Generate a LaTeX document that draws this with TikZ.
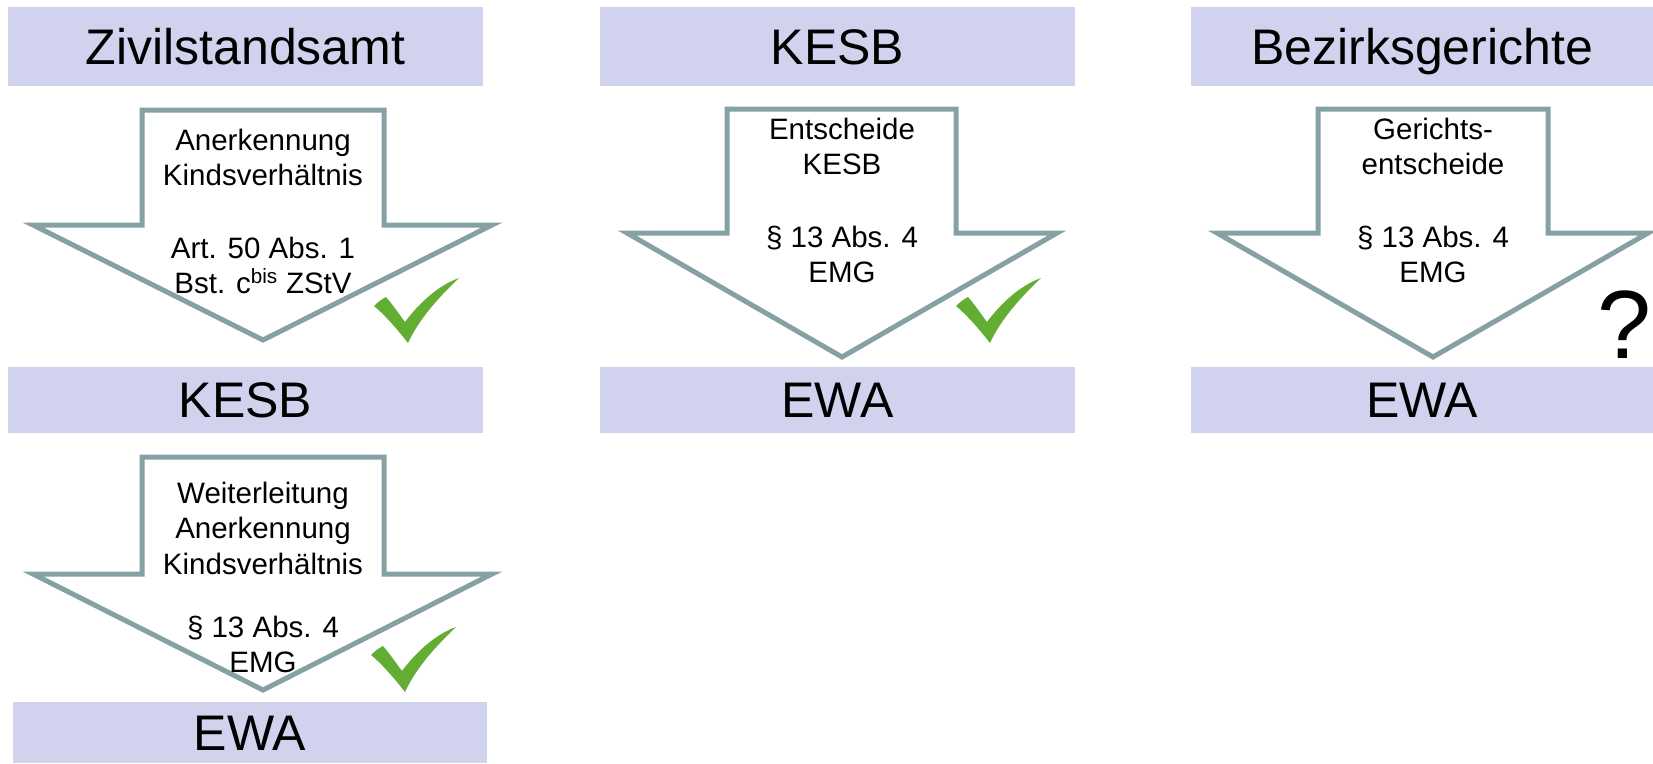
\documentclass[tikz,border=0pt]{standalone}
\usepackage{fontspec}
\setmainfont{Liberation Sans}
\definecolor{boxfill}{RGB}{208,210,238}
\definecolor{arrowline}{RGB}{134,161,163}
\definecolor{checkgreen}{RGB}{98,173,50}
\tikzset{
  titlebox/.style={fill=boxfill, draw=none, inner sep=0pt, text height=35.8pt, text depth=0pt,
    font=\fontsize{50}{54}\selectfont},
  blockarrow/.style={draw=arrowline, line width=5pt, fill=white, line join=miter, miter limit=10},
  lbl/.style={anchor=base, inner sep=0pt, font=\fontsize{29.5}{34}\selectfont},
  chk/.pic={\fill[checkgreen] (-33,-37) .. controls (-29,-41) and (-25,-44) .. (-21,-46)
      .. controls (-14,-38) and (-8,-29) .. (-2,-21)
      .. controls (12,-40) and (32,-58) .. (52,-65)
      .. controls (32,-46) and (12,-24) .. (1,0)
      .. controls (-10,-14) and (-22,-28) .. cycle;}
}
\begin{document}
\begin{tikzpicture}[x=1pt,y=-1pt]
\useasboundingbox (0,0) rectangle (1653,763);

% title boxes
\node[titlebox, minimum width=475pt, minimum height=79pt] (zivil) at (245.5,46.5) {Zivilstandsamt};
\node[titlebox, minimum width=475pt, minimum height=79pt] (kesbtop) at (837.5,46.5) {KESB};
\node[titlebox, minimum width=462pt, minimum height=79pt] (bezirk) at (1422,46.5) {Bezirksgerichte};
\node[titlebox, minimum width=475pt, minimum height=66pt] (kesbmid) at (245.5,400) {KESB};
\node[titlebox, minimum width=475pt, minimum height=66pt] (ewa2) at (837.5,400) {EWA};
\node[titlebox, minimum width=462pt, minimum height=66pt] (ewa3) at (1422,400) {EWA};
\node[titlebox, minimum width=474pt, minimum height=61pt] (ewa1) at (250,732.5) {EWA};

% block arrows
\draw[blockarrow] (142,110) -- (384,110) -- (384,225) -- (492,225) -- (263,340) -- (33,225) -- (142,225) -- cycle;
\draw[blockarrow] (727,109) -- (956,109) -- (956,233) -- (1057,233) -- (842,357) -- (627,233) -- (727,233) -- cycle;
\draw[blockarrow] (1318,109) -- (1548,109) -- (1548,233) -- (1648,233) -- (1433,357) -- (1217,233) -- (1318,233) -- cycle;
\draw[blockarrow] (142,457) -- (384,457) -- (384,574) -- (492,574) -- (263,690) -- (33,574) -- (142,574) -- cycle;

% arrow texts column 1 top
\node[lbl] (a1) at (263,150) {Anerkennung};
\node[lbl] (a2) at (263,185) {Kindsverhältnis};
\node[lbl] (a3) at (263,258) {Art. 50 Abs. 1};
\node[lbl] (a4) at (263,293) {Bst. c\textsuperscript{bis} ZStV};
% column 1 bottom
\node[lbl] (b1) at (263,503) {Weiterleitung};
\node[lbl] (b2) at (263,538) {Anerkennung};
\node[lbl] (b3) at (263,574) {Kindsverhältnis};
\node[lbl] (b4) at (263,637) {§ 13 Abs. 4};
\node[lbl] (b5) at (263,672) {EMG};
% column 2
\node[lbl] (c1) at (842,139) {Entscheide};
\node[lbl] (c2) at (842,174) {KESB};
\node[lbl] (c3) at (842,247) {§ 13 Abs. 4};
\node[lbl] (c4) at (842,282) {EMG};
% column 3
\node[lbl] (d1) at (1433,139) {Gerichts-};
\node[lbl] (d2) at (1433,174) {entscheide};
\node[lbl] (d3) at (1433,247) {§ 13 Abs. 4};
\node[lbl] (d4) at (1433,282) {EMG};

% marks
\pic at (407,343) {chk};
\pic at (989,343) {chk};
\pic at (404,692) {chk};
\node[anchor=base, inner sep=0pt, font=\fontsize{97}{100}\selectfont] (q) at (1624,358) {?};
\end{tikzpicture}
\end{document}
